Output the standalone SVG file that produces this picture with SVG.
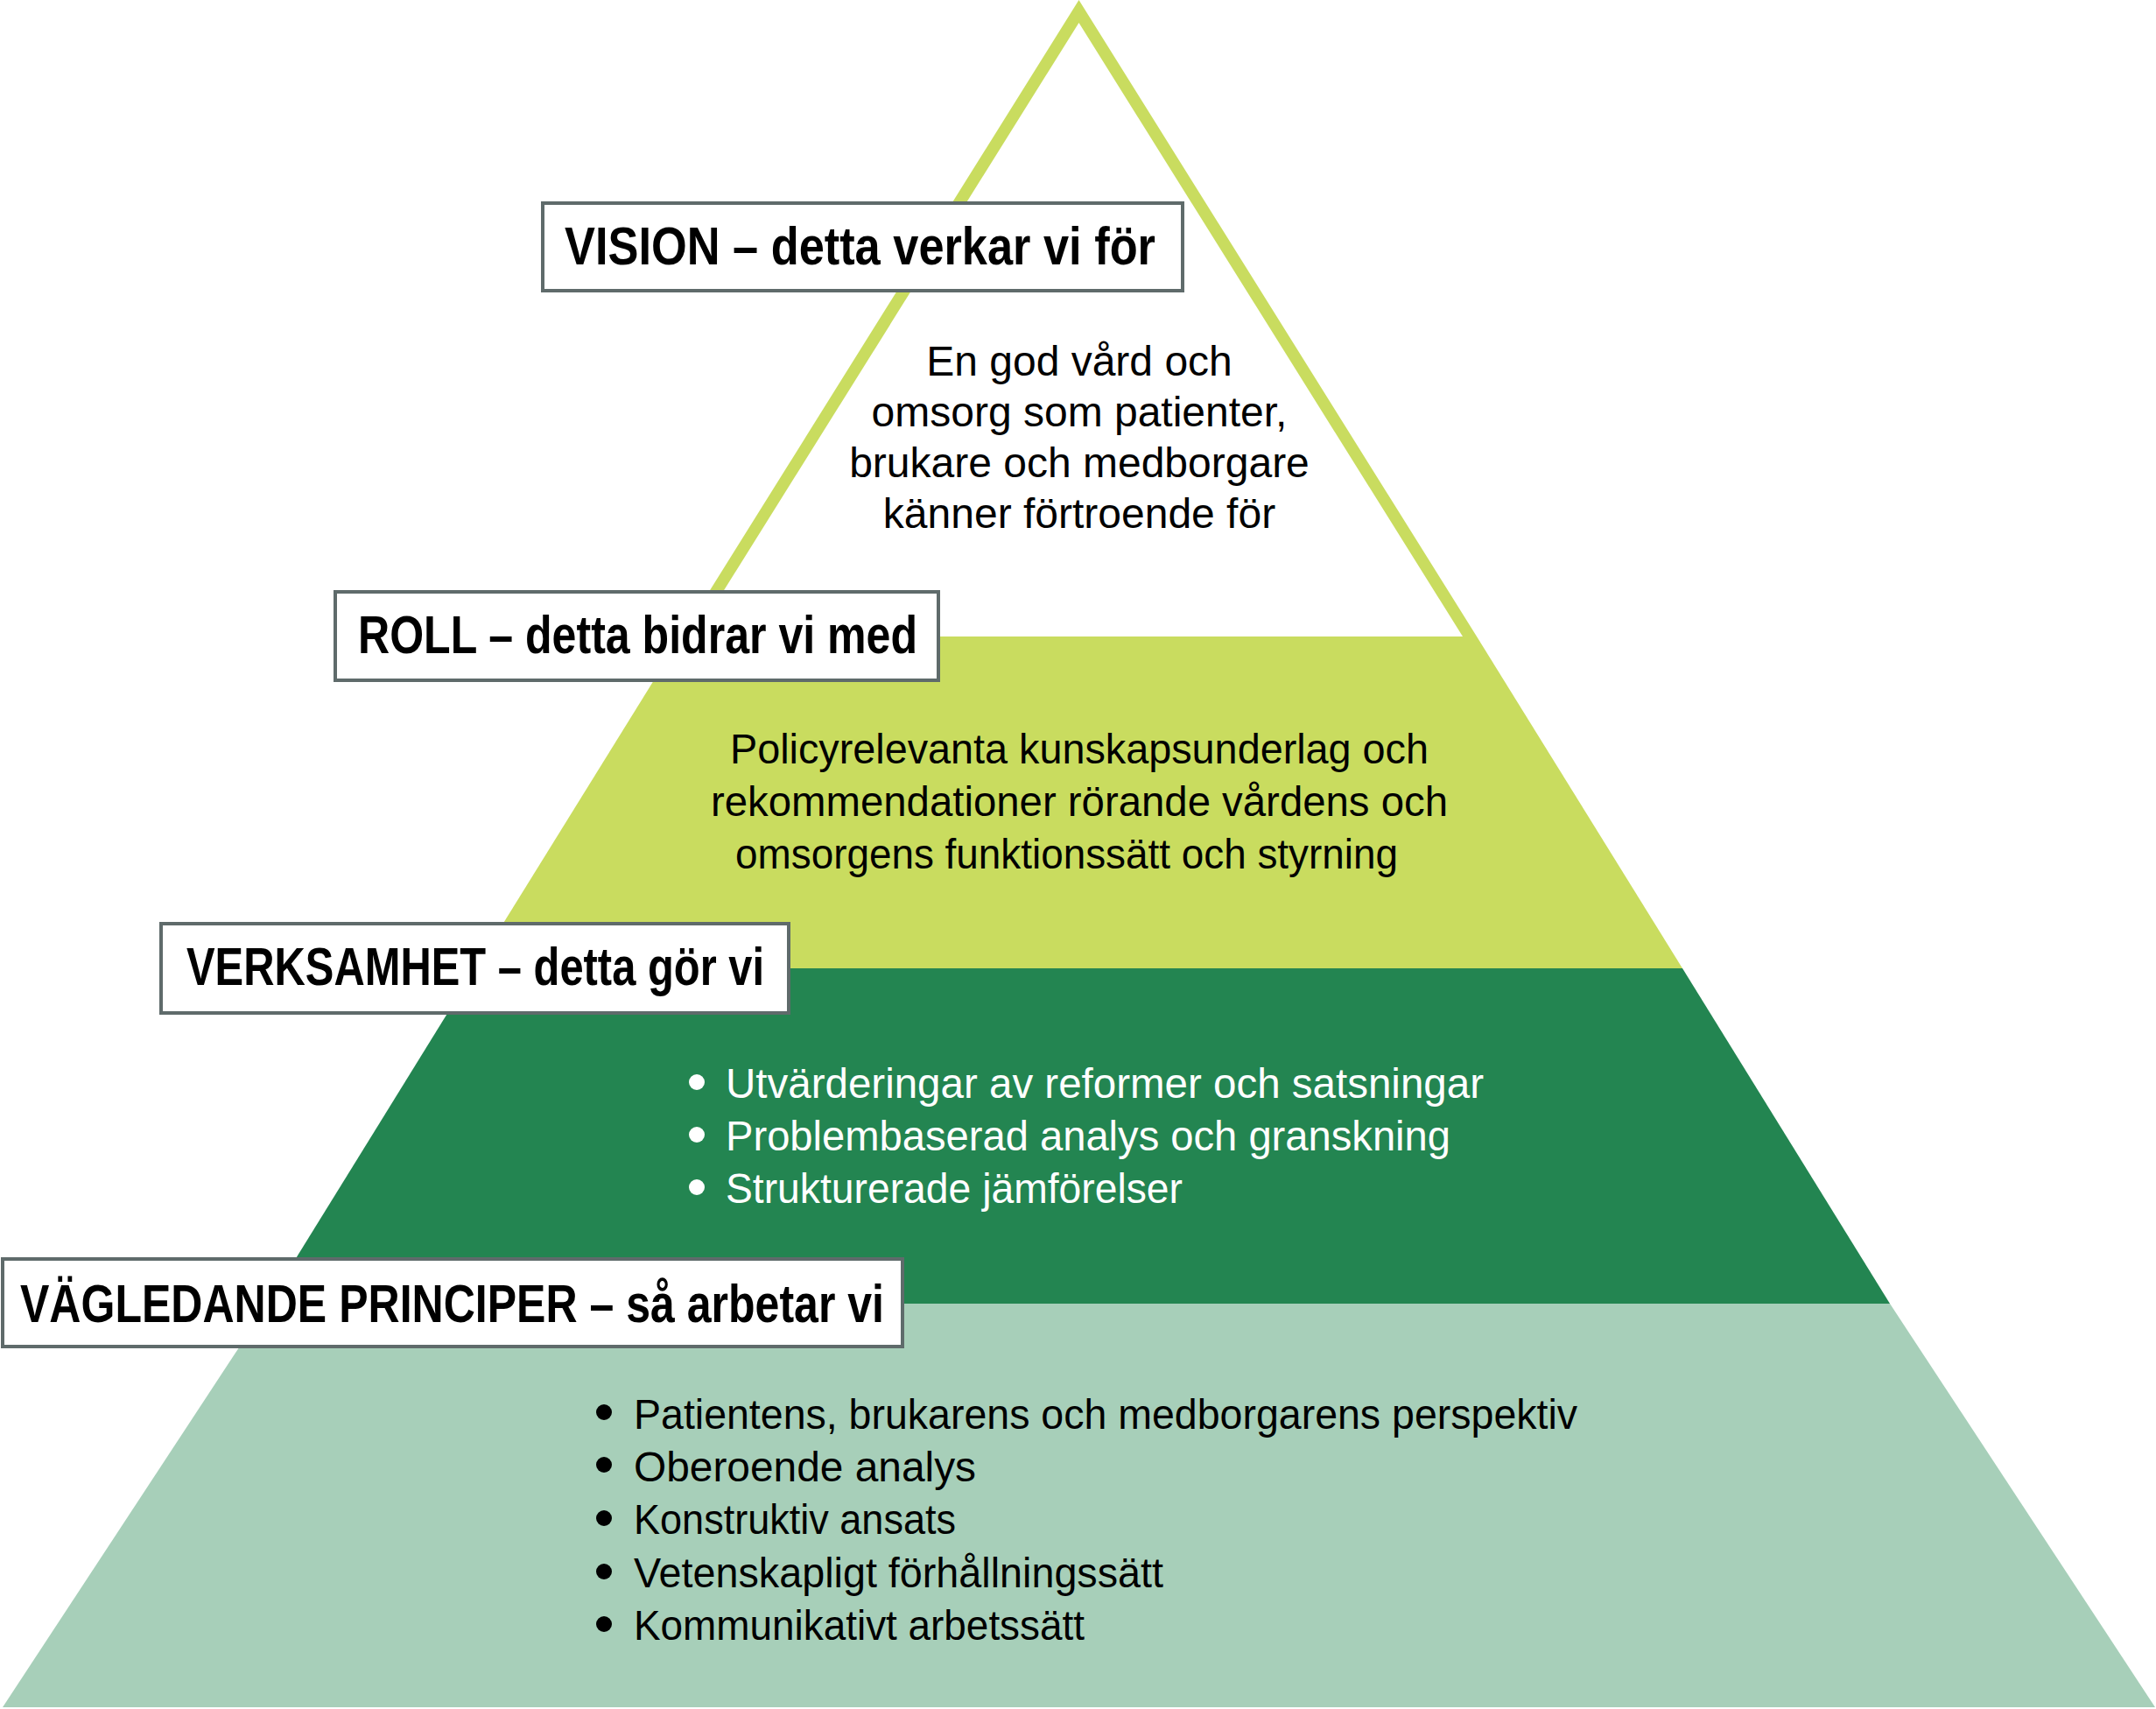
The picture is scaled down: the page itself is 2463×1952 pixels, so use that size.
<svg xmlns="http://www.w3.org/2000/svg" width="2463" height="1952" viewBox="0 0 2463 1952">
<style>
.body{font-family:"Liberation Sans",Arial,sans-serif;font-size:48px;fill:#000}
.white{fill:#fff}
.title{font-family:"Liberation Sans",Arial,sans-serif;font-size:62px;font-weight:bold;fill:#000}
.box{fill:#fff;stroke:#5f6b6b;stroke-width:4}
.mid{text-anchor:middle}
</style>
<rect width="2463" height="1952" fill="#fff"/>
<g id="tier-vision-shape">
<polygon points="1232.5,0 1687,727 778,727" fill="#c9dc5f"/>
<polygon points="1232.5,26 1671,727 794,727" fill="#fff"/>
</g>
<g id="tier-roll-shape">
<polygon points="778,727 1687,727 1922,1106 543,1106" fill="#c9dc5f"/>
</g>
<g id="tier-verksamhet-shape">
<polygon points="543,1106 1922,1106 2159,1489 306,1489" fill="#238551"/>
</g>
<g id="tier-principer-shape">
<polygon points="306,1489 2159,1489 2462,1950 3,1950" fill="#a7cfb9"/>
</g>
<g id="vision">
<rect class="box" x="620" y="232" width="731" height="100"/>
<text class="title" x="645" y="302" textLength="675" lengthAdjust="spacingAndGlyphs">VISION – detta verkar vi för</text>
<text class="body mid" x="1233" y="429">En god vård och</text>
<text class="body mid" x="1233" y="487">omsorg som patienter,</text>
<text class="body mid" x="1233" y="545">brukare och medborgare</text>
<text class="body mid" x="1233" y="603">känner förtroende för</text>
</g>
<g id="roll">
<rect class="box" x="383" y="676" width="689" height="101"/>
<text class="title" x="409" y="746" textLength="639" lengthAdjust="spacingAndGlyphs">ROLL – detta bidrar vi med</text>
<text class="body" x="834" y="872" textLength="798" lengthAdjust="spacingAndGlyphs">Policyrelevanta kunskapsunderlag och</text>
<text class="body" x="812" y="932" textLength="842" lengthAdjust="spacingAndGlyphs">rekommendationer rörande vårdens och</text>
<text class="body" x="840" y="992" textLength="757" lengthAdjust="spacingAndGlyphs">omsorgens funktionssätt och styrning</text>
</g>
<g id="verksamhet">
<rect class="box" x="184" y="1055" width="717" height="102"/>
<text class="title" x="213" y="1125" textLength="660" lengthAdjust="spacingAndGlyphs">VERKSAMHET – detta gör vi</text>
<circle cx="796" cy="1236" r="9" fill="#fff"/>
<circle cx="796" cy="1296" r="9" fill="#fff"/>
<circle cx="796" cy="1356" r="9" fill="#fff"/>
<text class="body white" x="829" y="1254" textLength="866" lengthAdjust="spacingAndGlyphs">Utvärderingar av reformer och satsningar</text>
<text class="body white" x="829" y="1314" textLength="828" lengthAdjust="spacingAndGlyphs">Problembaserad analys och granskning</text>
<text class="body white" x="829" y="1374" textLength="522" lengthAdjust="spacingAndGlyphs">Strukturerade jämförelser</text>
</g>
<g id="principer">
<rect class="box" x="3" y="1438" width="1028" height="100"/>
<text class="title" x="23" y="1510" textLength="987" lengthAdjust="spacingAndGlyphs">VÄGLEDANDE PRINCIPER – så arbetar vi</text>
<circle cx="690" cy="1613" r="9" fill="#000"/>
<circle cx="690" cy="1673" r="9" fill="#000"/>
<circle cx="690" cy="1734" r="9" fill="#000"/>
<circle cx="690" cy="1795" r="9" fill="#000"/>
<circle cx="690" cy="1855" r="9" fill="#000"/>
<text class="body" x="724" y="1632" textLength="1078" lengthAdjust="spacingAndGlyphs">Patientens, brukarens och medborgarens perspektiv</text>
<text class="body" x="724" y="1692" textLength="391" lengthAdjust="spacingAndGlyphs">Oberoende analys</text>
<text class="body" x="724" y="1752" textLength="368" lengthAdjust="spacingAndGlyphs">Konstruktiv ansats</text>
<text class="body" x="724" y="1813" textLength="605" lengthAdjust="spacingAndGlyphs">Vetenskapligt förhållningssätt</text>
<text class="body" x="724" y="1873" textLength="515" lengthAdjust="spacingAndGlyphs">Kommunikativt arbetssätt</text>
</g>
<g id="connectors"/>
</svg>
